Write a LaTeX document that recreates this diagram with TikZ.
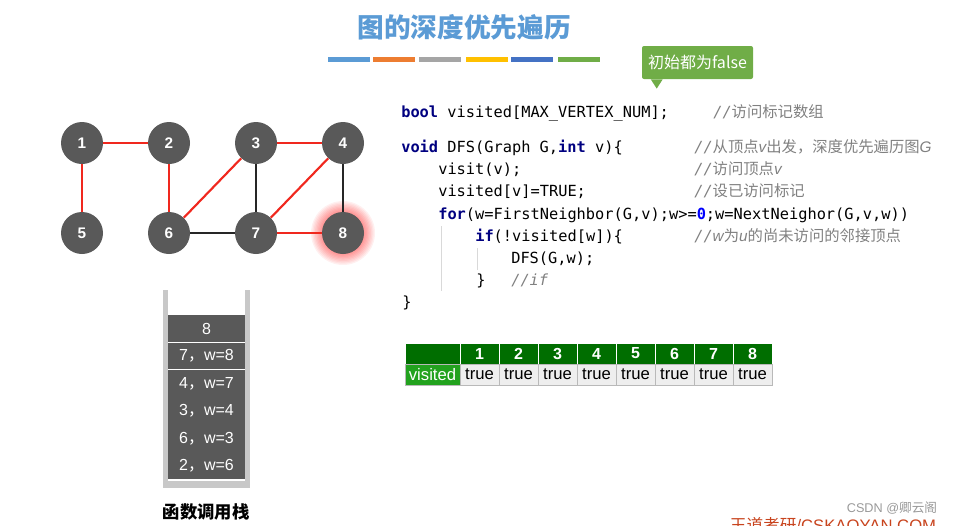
\documentclass[tikz,border=0pt]{standalone}
\usepackage{fontspec}
\setmainfont{Liberation Sans}
\setmonofont{DejaVu Sans Mono}
\newfontfamily\cjk{Noto Sans CJK SC}
\usetikzlibrary{positioning}
\definecolor{titleblue}{HTML}{5B9BD5}
\definecolor{barorange}{HTML}{ED7D31}
\definecolor{bargray}{HTML}{A5A5A5}
\definecolor{baryellow}{HTML}{FFC000}
\definecolor{barblue}{HTML}{4472C4}
\definecolor{bargreen}{HTML}{70AD47}
\definecolor{vertexgray}{HTML}{595959}
\definecolor{edgered}{HTML}{F0281E}
\definecolor{keyblue}{HTML}{000080}
\definecolor{numblue}{HTML}{0000FF}
\definecolor{commentgray}{HTML}{808080}
\definecolor{headgreen}{HTML}{006E00}
\definecolor{cellgreen}{HTML}{22A21E}
\definecolor{cellgray}{HTML}{EEEEEE}
\definecolor{wallgray}{HTML}{C8C8C8}
\definecolor{wdred}{HTML}{C8441E}
\newcommand\cmt[1]{{\color{commentgray}\ttfamily\itshape //}{\cjk\color{commentgray}#1}}
\newcommand\cmtvar[1]{{\normalfont\itshape #1}}
\newcommand\kw[1]{{\bfseries\color{keyblue}#1}}
\tikzset{
	vertex/.style={circle,fill=vertexgray,minimum size=31.5pt,inner sep=0pt,text=white,font=\fontsize{11.5}{13}\selectfont\bfseries},
	treeedge/.style={edgered,line width=1.6pt},
	backedge/.style={black!85,line width=1.1pt},
	codeline/.style={anchor=base west,inner sep=0pt,font=\fontsize{11.5}{14}\selectfont\ttfamily},
	guide/.style={black!15,line width=0.6pt},
	frame/.style={rectangle,fill=vertexgray,minimum width=57.75pt,minimum height=20.55pt,inner sep=0pt,outer sep=0pt,text=white,font=\fontsize{12}{14}\selectfont},
	headcell/.style={rectangle,draw=white,line width=0.6pt,fill=headgreen,text=white,minimum width=29.25pt,minimum height=15.75pt,inner sep=0pt,outer sep=0pt,font=\bfseries\fontsize{12}{14}\selectfont},
	datacell/.style={rectangle,draw=gray!55,line width=0.6pt,fill=cellgray,text=black,minimum width=29.25pt,minimum height=15.75pt,inner sep=0pt,outer sep=0pt,font=\fontsize{12.5}{14}\selectfont}
}
\begin{document}
\begin{tikzpicture}[x=0.75pt,y=-0.75pt]
	\useasboundingbox (0,0) rectangle (959,525);
	\clip (0,0) rectangle (959,525);
	\node[text=titleblue,font=\cjk\bfseries\fontsize{20}{24}\selectfont] (title) at (464,27) {图的深度优先遍历};
	\foreach \x/\c in {328/titleblue,373/barorange,419/bargray,466/baryellow,511/barblue,558/bargreen}
		\fill[\c] (\x,57) rectangle ++(42,5);
	\node[fill=bargreen,text=white,rounded corners=1.5pt,minimum width=83.25pt,minimum height=24.75pt,inner sep=0pt,font=\cjk\fontsize{12}{14}\selectfont] (note) at (697.5,62.5) {初始都为false};
	\fill[bargreen] ([xshift=6.75pt]note.south west) -- ([xshift=15.75pt]note.south west) -- ([xshift=11.25pt,yshift=-7pt]note.south west) -- cycle;

	\coordinate (g8) at (343,233);
	\foreach \r in {16,17,...,24}
		\fill[red,opacity=0.06] (g8) circle (\r pt);
	\node[vertex] (n1) at (82,143) {1};
	\node[vertex] (n2) at (169,143) {2};
	\node[vertex] (n3) at (256,143) {3};
	\node[vertex] (n4) at (343,143) {4};
	\node[vertex] (n5) at (82,233) {5};
	\node[vertex] (n6) at (169,233) {6};
	\node[vertex] (n7) at (256,233) {7};
	\node[vertex] (n8) at (343,233) {8};
	\draw[treeedge] (n1) -- (n2);
	\draw[treeedge] (n1) -- (n5);
	\draw[treeedge] (n2) -- (n6);
	\draw[treeedge] (n6) -- (n3);
	\draw[treeedge] (n3) -- (n4);
	\draw[treeedge] (n4) -- (n7);
	\draw[treeedge] (n7) -- (n8);
	\draw[backedge] (n3) -- (n7);
	\draw[backedge] (n4) -- (n8);
	\draw[backedge] (n6) -- (n7);

	\node[codeline] (c1) at (401,117) {\kw{bool} visited[MAX\_VERTEX\_NUM];};
	\node[codeline] (m1) at (713,117) {\cmt{访问标记数组}};
	\node[codeline] (c2) at (401,152) {\kw{void} DFS(Graph G,\kw{int} v)\{};
	\node[codeline] (m2) at (694,152) {\cmt{从顶点\cmtvar{v}出发，深度优先遍历图\cmtvar{G}}};
	\node[codeline] (c3) at (438,174) {visit(v);};
	\node[codeline] (m3) at (694,174) {\cmt{访问顶点\cmtvar{v}}};
	\node[codeline] (c4) at (438,196) {visited[v]=TRUE;};
	\node[codeline] (m4) at (694,196) {\cmt{设已访问标记}};
	\node[codeline] (c5) at (438,219) {\kw{for}(w=FirstNeighbor(G,v);w>={\bfseries\color{numblue}0};w=NextNeighor(G,v,w))};
	\node[codeline] (c6) at (475,241) {\kw{if}(!visited[w])\{};
	\node[codeline] (m6) at (694,241) {\cmt{\cmtvar{w}为\cmtvar{u}的尚未访问的邻接顶点}};
	\node[codeline] (c7) at (511,263) {DFS(G,w);};
	\node[codeline] (c8) at (476,285) {\}};
	\node[codeline] (m8) at (511,285) {{\color{commentgray}\itshape //if}};
	\node[codeline] (c9) at (402,307) {\}};
	\draw[guide] (441,226) -- (441,291);
	\draw[guide] (477,248) -- (477,270);

	\fill[wallgray] (163,290) rectangle (168,488);
	\fill[wallgray] (245,290) rectangle (250,488);
	\fill[wallgray] (163,481) rectangle (250,488);
	\node[frame,anchor=north] (f8) at (206.5,315) {8};
	\node[frame,below=0pt of f8] (f7) {7{\cjk，}w=8};
	\node[frame,below=0pt of f7] (f4) {4{\cjk，}w=7};
	\node[frame,below=0pt of f4] (f3) {3{\cjk，}w=4};
	\node[frame,below=0pt of f3] (f6) {6{\cjk，}w=3};
	\node[frame,below=0pt of f6] (f2) {2{\cjk，}w=6};
	\draw[white,line width=0.8pt] (f7.north west) -- (f7.north east);
	\draw[white,line width=0.8pt] (f4.north west) -- (f4.north east);
	\draw[white,line width=0.8pt] (f2.south west) -- (f2.south east);
	\node[font=\cjk\bfseries\fontsize{13}{15}\selectfont] (stacklabel) at (206,512) {函数调用栈};

	\node[headcell,minimum width=41.25pt,anchor=north west] (h0) at (405,343) {};
	\node[datacell,fill=cellgreen,text=white,minimum width=41.25pt,below=0pt of h0] (d0) {visited};
	\foreach \i [remember=\i as \j (initially 0)] in {1,...,8} {
		\node[headcell,right=0pt of h\j] (h\i) {\i};
		\node[datacell,right=0pt of d\j] (d\i) {true};
	}

	\node[text=gray!80,font=\fontsize{9.5}{11}\selectfont] (csdn) at (892,508) {CSDN @{\cjk 卿云阁}};
	\node[anchor=base,text=wdred,font=\fontsize{12.5}{14}\selectfont] (wangdao) at (833,531) {{\cjk 王道考研}/CSKAOYAN.COM};
\end{tikzpicture}
\end{document}
